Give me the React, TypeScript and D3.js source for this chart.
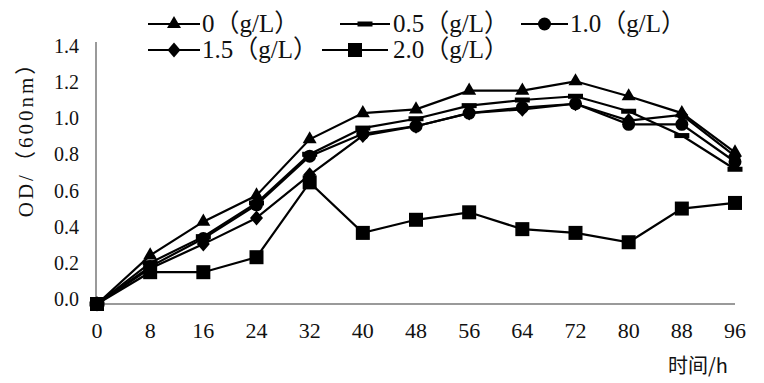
import React from "react";
import * as d3 from "d3";

const hours = [0, 8, 16, 24, 32, 40, 48, 56, 64, 72, 80, 88, 96];
const yTicks = [0, 0.2, 0.4, 0.6, 0.8, 1.0, 1.2, 1.4];
const seriesNames = ["0（g/L）", "0.5（g/L）", "1.0（g/L）", "1.5（g/L）", "2.0（g/L）"];
const s0 = [0, 0.26, 0.44, 0.58, 0.88, 1.02, 1.04, 1.14, 1.14, 1.19, 1.11, 1.02, 0.81];
const s05 = [0, 0.22, 0.36, 0.54, 0.8, 0.94, 0.99, 1.06, 1.09, 1.11, 1.03, 0.9, 0.72];
const s10 = [0, 0.2, 0.35, 0.53, 0.79, 0.91, 0.95, 1.02, 1.05, 1.07, 0.96, 0.96, 0.76];
const s15 = [0, 0.19, 0.32, 0.46, 0.69, 0.9, 0.95, 1.02, 1.04, 1.07, 0.98, 1.01, 0.79];
const s20 = [0, 0.17, 0.17, 0.25, 0.65, 0.38, 0.45, 0.49, 0.4, 0.38, 0.33, 0.51, 0.54];
const markers = ["triangle", "dash", "circle", "diamond", "square"];

const SERIF = "'Liberation Serif', 'Noto Sans CJK SC', serif";

function Marker({ type, x, y }: { type: string; x: number; y: number }) {
  if (type === "triangle") {
    const p = d3.symbol(d3.symbolTriangle, 85)();
    return <path d={p as string} transform={`translate(${x},${y})`} fill="#000" />;
  }
  if (type === "dash") return <rect x={x - 7.5} y={y - 2.5} width={15} height={5} fill="#000" />;
  if (type === "circle") return <circle cx={x} cy={y} r={6.5} fill="#000" />;
  if (type === "diamond") {
    return <path d={`M${x},${y - 7.5}L${x + 6.5},${y}L${x},${y + 7.5}L${x - 6.5},${y}Z`} fill="#000" />;
  }
  return <rect x={x - 7} y={y - 7} width={14} height={14} fill="#000" />;
}

export default function App() {
  const W = 764, H = 383;
  const x = d3.scaleLinear().domain([0, 96]).range([97, 735]);
  const y = d3.scaleLinear().domain([0, 1.4]).range([304, 42]);
  const yLab = d3.scaleLinear().domain([0, 1.4]).range([299, 46]);
  const data = [s0, s05, s10, s15, s20];
  const line = d3.line<number>().x((_, i) => x(hours[i])).y((d) => y(d));

  const legend = [
    { lx: 148, lw: 52, ly: 24, tx: 202 },
    { lx: 340, lw: 50, ly: 24, tx: 393 },
    { lx: 521, lw: 47, ly: 24, tx: 570 },
    { lx: 148, lw: 52, ly: 50, tx: 202 },
    { lx: 322, lw: 66, ly: 50, tx: 393 },
  ];

  return (
    <svg width={W} height={H} style={{ position: "absolute", left: 0, top: 0, background: "#fff" }}>
      <rect width={W} height={H} fill="#fff" />
      {/* axes */}
      <line x1={96} x2={96} y1={42} y2={305} stroke="#9a9a9a" strokeWidth={2} />
      <line x1={96} x2={735} y1={304} y2={304} stroke="#9a9a9a" strokeWidth={2} />
      {yTicks.map((t) => (
        <text key={t} x={79} y={yLab(t) + 7} textAnchor="end" fontFamily={SERIF} fontSize={20} fill="#111">
          {t.toFixed(1)}
        </text>
      ))}
      {hours.map((h) => (
        <text key={h} x={x(h)} y={338} textAnchor="middle" fontFamily={SERIF} fontSize={22} fill="#111">
          {h}
        </text>
      ))}
      <text
        transform="translate(33,134) rotate(-90)"
        textAnchor="middle"
        fontFamily={SERIF}
        fontSize={21}
        letterSpacing={3}
        fill="#111"
      >
        OD/（600nm）
      </text>
      <text x={668} y={373} fontFamily="'Noto Sans CJK SC', sans-serif" fontSize={20} fill="#111">
        时间/h
      </text>
      {/* lines */}
      {data.map((d, i) => (
        <path key={i} d={line(d) as string} fill="none" stroke="#000" strokeWidth={2.2} />
      ))}
      {data.map((d, i) =>
        d.map((v, j) => <Marker key={`${i}-${j}`} type={markers[i]} x={x(hours[j])} y={y(v)} />)
      )}
      {/* legend */}
      {legend.map((l, i) => (
        <g key={i}>
          <line x1={l.lx} x2={l.lx + l.lw} y1={l.ly} y2={l.ly} stroke="#000" strokeWidth={2.2} />
          <Marker type={markers[i]} x={l.lx + l.lw / 2} y={l.ly} />
          <text x={l.tx} y={l.ly + 8} fontFamily={SERIF} fontSize={25} fill="#111">
            {seriesNames[i]}
          </text>
        </g>
      ))}
    </svg>
  );
}
